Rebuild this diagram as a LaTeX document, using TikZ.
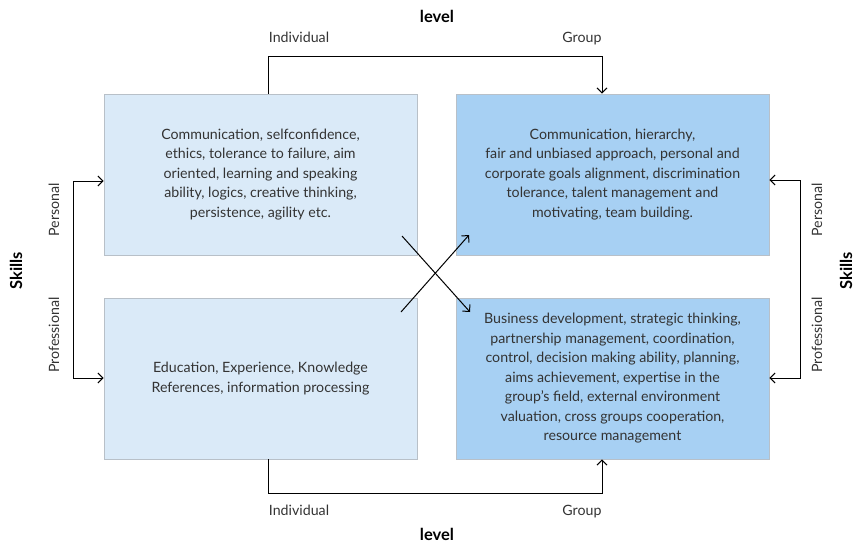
\documentclass[tikz,border=0pt]{standalone}
\usepackage{fontspec}
\setmainfont{Lato}
\usetikzlibrary{arrows.meta,calc}
\definecolor{lightbox}{HTML}{DAEAF8}
\definecolor{darkbox}{HTML}{A7D0F3}
\definecolor{boxedge}{HTML}{B8C0C8}
\definecolor{txt}{HTML}{333333}
\tikzset{
  box/.style={draw=boxedge, line width=0.8pt, minimum width=313pt, minimum height=161pt, inner sep=0pt, align=center, text=txt, font=\fontsize{14.2}{19.5}\selectfont},
  lbox/.style={box, fill=lightbox},
  dbox/.style={box, fill=darkbox},
  conn/.style={line width=1pt, black},
  arr/.style={conn, -{Straight Barb[length=5pt,width=10pt]}},
  arrboth/.style={conn, {Straight Barb[length=5pt,width=10pt]}-{Straight Barb[length=5pt,width=10pt]}},
  lab/.style={text=txt, font=\fontsize{14.2}{16}\selectfont, inner sep=0pt},
  title/.style={text=black, font=\fontsize{16.5}{19}\selectfont\bfseries, inner sep=0pt}
}
\begin{document}
\begin{tikzpicture}[x=1pt,y=-1pt]
\useasboundingbox (0,0) rectangle (858,544);
\node[lbox] (tl) at (260.5,174.5) {Communication, selfconfidence,\\ethics, tolerance to failure, aim\\oriented, learning and speaking\\ability, logics, creative thinking,\\persistence, agility etc.};
\node[lbox] (bl) at (260.5,378.5) {Education, Experience, Knowledge\\References, information processing};
\node[dbox] (tr) at (612.5,174.5) {Communication, hierarchy,\\fair and unbiased approach, personal and\\corporate goals alignment, discrimination\\tolerance, talent management and\\motivating, team building.};
\node[dbox] (br) at (612.5,378.5) {Business development, strategic thinking,\\partnership management, coordination,\\control, decision making ability, planning,\\aims achievement, expertise in the\\group's field, external environment\\valuation, cross groups cooperation,\\resource management};
% top / bottom level connectors
\draw[arr] ([xshift=7.5pt]tl.north) -- ++(0,-37) -| ([xshift=-10.5pt]tr.north);
\draw[arr] ([xshift=7.5pt]bl.south) -- ++(0,34) -| ([xshift=-10.5pt]br.south);
% left / right skill brackets
\coordinate (l1) at (73,181);
\coordinate (l2) at (73,378);
\draw[arrboth] (l1 -| tl.west) -- (l1) -- (l2) -- (l2 -| bl.west);
\coordinate (r1) at (800,180);
\coordinate (r2) at (800,378);
\draw[arrboth] (r1 -| tr.east) -- (r1) -- (r2) -- (r2 -| br.east);
% cross
\coordinate (c1s) at (402,236);
\coordinate (c1e) at (470,312);
\coordinate (c2s) at (401,312);
\coordinate (c2e) at (469,235);
\draw[arr] (c1s) -- (c1e);
\draw[arr] (c2s) -- (c2e);
% labels
\node[title, anchor=base] (lvtop) at (437,22) {level};
\node[lab, anchor=base] (indtop) at (299,42) {Individual};
\node[lab, anchor=base] (grtop) at (582,42) {Group};
\node[title, anchor=base] (lvbot) at (437,540) {level};
\node[lab, anchor=base] (indbot) at (299,515) {Individual};
\node[lab, anchor=base] (grbot) at (582,515) {Group};
\node[lab, rotate=90, anchor=base] (perl) at (59,210) {Personal};
\node[lab, rotate=90, anchor=base] (profl) at (59,335) {Professional};
\node[title, rotate=90, anchor=base] (skl) at (22,271) {Skills};
\node[lab, rotate=90, anchor=base] (perr) at (822,210) {Personal};
\node[lab, rotate=90, anchor=base] (profr) at (822,335) {Professional};
\node[title, rotate=90, anchor=base] (skr) at (852,271) {Skills};
\end{tikzpicture}
\end{document}
